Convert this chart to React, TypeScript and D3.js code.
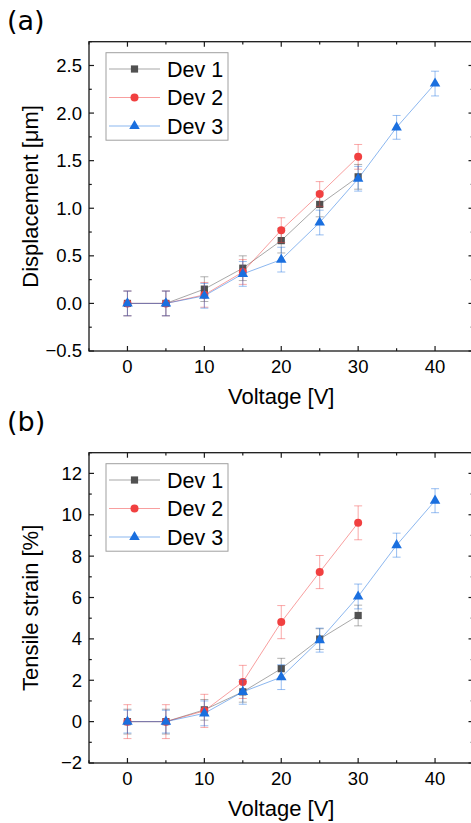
import React from "react";
import * as d3 from "d3";

const seriesNames = ["Dev 1", "Dev 2", "Dev 3"];
const seriesColors = ["#515151", "#F14040", "#1A6FDF"];

const voltage12 = [0, 5, 10, 15, 20, 25, 30];
const voltage3 = [0, 5, 10, 15, 20, 25, 30, 35, 40];

const disp1 = [0, 0, 0.15, 0.37, 0.66, 1.04, 1.33];
const disp2 = [0, 0, 0.09, 0.33, 0.77, 1.15, 1.54];
const disp3 = [0, 0, 0.08, 0.31, 0.46, 0.85, 1.31, 1.85, 2.31];
const dispErr1 = [0.13, 0.13, 0.13, 0.13, 0.13, 0.13, 0.13];
const dispErr2 = [0.13, 0.13, 0.13, 0.13, 0.13, 0.13, 0.13];
const dispErr3 = [0.13, 0.13, 0.13, 0.13, 0.13, 0.13, 0.13, 0.125, 0.13];

const strain1 = [0, 0, 0.57, 1.44, 2.56, 3.99, 5.13];
const strain2 = [0, 0, 0.52, 1.92, 4.81, 7.23, 9.61];
const strain3 = [0, 0, 0.4, 1.44, 2.15, 3.94, 6.05, 8.53, 10.68];
const strainErr1 = [0.6, 0.6, 0.5, 0.5, 0.5, 0.5, 0.5];
const strainErr2 = [0.82, 0.82, 0.8, 0.8, 0.8, 0.8, 0.82];
const strainErr3 = [0.55, 0.55, 0.6, 0.6, 0.6, 0.58, 0.6, 0.58, 0.58];

const xTicks = [0, 10, 20, 30, 40];
const xMinorTicks = [-5, 5, 15, 25, 35, 45];
const dispTicks = [-0.5, 0, 0.5, 1.0, 1.5, 2.0, 2.5];
const dispMinor = [-0.25, 0.25, 0.75, 1.25, 1.75, 2.25, 2.75];
const strainTicks = [-2, 0, 2, 4, 6, 8, 10, 12];
const strainMinor = [-1, 1, 3, 5, 7, 9, 11, 13];

const LEFT = 89;
const RIGHT = 473.5;
const AXIS_FONT = "'Liberation Sans', Arial, sans-serif";

type Series = { x: number[]; y: number[]; e: number[] };

function Marker({ i, cx, cy }: { i: number; cx: number; cy: number }) {
  const c = seriesColors[i];
  if (i === 0) return <rect x={cx - 3.6} y={cy - 3.6} width={7.2} height={7.2} fill={c} />;
  if (i === 1) return <circle cx={cx} cy={cy} r={4} fill={c} />;
  const p = d3.symbol(d3.symbolTriangle, 48)();
  return <path d={p || ""} transform={`translate(${cx},${cy})`} fill={c} />;
}

function Panel({
  top, bottom, domain, ticks, minor, fmt, series, yTitle, label, labelY,
}: {
  top: number; bottom: number; domain: [number, number]; ticks: number[]; minor: number[];
  fmt: (v: number) => string; series: Series[]; yTitle: string; label: string; labelY: number;
}) {
  const x = d3.scaleLinear().domain([-5, 45]).range([LEFT, RIGHT]);
  const y = d3.scaleLinear().domain(domain).range([bottom, top]);
  const line = d3.line<[number, number]>().x((d) => x(d[0])).y((d) => y(d[1]));
  const majorLen = 5;
  const minorLen = 2.8;
  const axisColor = "#1a1a1a";
  const legendTop = top + 11;
  return (
    <g>
      <text x={7} y={labelY} fontFamily="'DejaVu Sans', sans-serif" fontSize={27} fill="#000">{label}</text>
      {series.map((s, i) => {
        const pts: [number, number][] = s.x.map((v, k) => [v, s.y[k]]);
        const c = seriesColors[i];
        return (
          <g key={i}>
            {pts.map((p, k) => {
              const cx = x(p[0]);
              const y1 = y(p[1] + s.e[k]);
              const y2 = y(p[1] - s.e[k]);
              return (
                <g key={k} stroke={c} strokeOpacity={0.45} strokeWidth={1}>
                  <line x1={cx} x2={cx} y1={y1} y2={y2} />
                  <line x1={cx - 4} x2={cx + 4} y1={y1} y2={y1} />
                  <line x1={cx - 4} x2={cx + 4} y1={y2} y2={y2} />
                </g>
              );
            })}
            <path d={line(pts) || ""} fill="none" stroke={c} strokeOpacity={0.5} strokeWidth={1} />
            {pts.map((p, k) => (
              <Marker key={k} i={i} cx={x(p[0])} cy={y(p[1])} />
            ))}
          </g>
        );
      })}
      <rect x={LEFT} y={top} width={RIGHT - LEFT} height={bottom - top} fill="none" stroke={axisColor} strokeWidth={1.3} />
      {xTicks.map((t) => (
        <g key={"xt" + t} stroke={axisColor} strokeWidth={1.2}>
          <line x1={x(t)} x2={x(t)} y1={bottom} y2={bottom - majorLen} />
          <line x1={x(t)} x2={x(t)} y1={top} y2={top + majorLen} />
        </g>
      ))}
      {xMinorTicks.map((t) => (
        <g key={"xm" + t} stroke={axisColor} strokeWidth={1.2}>
          <line x1={x(t)} x2={x(t)} y1={bottom} y2={bottom - minorLen} />
          <line x1={x(t)} x2={x(t)} y1={top} y2={top + minorLen} />
        </g>
      ))}
      {xTicks.map((t) => (
        <text key={"xl" + t} x={x(t)} y={bottom + 22} textAnchor="middle" fontFamily={AXIS_FONT} fontSize={18.5} fill="#000">{t}</text>
      ))}
      {ticks.map((t) => (
        <g key={"yt" + t} stroke={axisColor} strokeWidth={1.2}>
          <line x1={LEFT} x2={LEFT + majorLen} y1={y(t)} y2={y(t)} />
          <line x1={RIGHT} x2={RIGHT - majorLen} y1={y(t)} y2={y(t)} />
        </g>
      ))}
      {minor.map((t) => (
        <g key={"ym" + t} stroke={axisColor} strokeWidth={1.2}>
          <line x1={LEFT} x2={LEFT + minorLen} y1={y(t)} y2={y(t)} />
          <line x1={RIGHT} x2={RIGHT - minorLen} y1={y(t)} y2={y(t)} />
        </g>
      ))}
      {ticks.map((t) => (
        <text key={"yl" + t} x={LEFT - 7} y={y(t)} dy="0.35em" textAnchor="end" fontFamily={AXIS_FONT} fontSize={18.5} fill="#000">{fmt(t)}</text>
      ))}
      <text x={x(20)} y={bottom + 53} textAnchor="middle" fontFamily={AXIS_FONT} fontSize={22} fill="#000">Voltage [V]</text>
      <text transform={`translate(37.5,${(top + bottom) / 2}) rotate(-90)`} textAnchor="middle" fontFamily={AXIS_FONT} fontSize={22} fill="#000">{yTitle}</text>
      <rect x={106} y={legendTop} width={122} height={87.5} fill="#fff" stroke="#a0a0a0" strokeWidth={1} />
      {seriesNames.map((n, i) => {
        const cy = legendTop + 16.3 + i * 28.5;
        return (
          <g key={n}>
            <line x1={109} x2={160} y1={cy} y2={cy} stroke={seriesColors[i]} strokeOpacity={0.5} strokeWidth={1} />
            <Marker i={i} cx={134.5} cy={cy} />
            <text x={167} y={cy} dy="0.36em" fontFamily={AXIS_FONT} fontSize={21.5} fill="#000">{n}</text>
          </g>
        );
      })}
    </g>
  );
}

export default function App() {
  const dispSeries: Series[] = [
    { x: voltage12, y: disp1, e: dispErr1 },
    { x: voltage12, y: disp2, e: dispErr2 },
    { x: voltage3, y: disp3, e: dispErr3 },
  ];
  const strainSeries: Series[] = [
    { x: voltage12, y: strain1, e: strainErr1 },
    { x: voltage12, y: strain2, e: strainErr2 },
    { x: voltage3, y: strain3, e: strainErr3 },
  ];
  const fmt1 = d3.format(".1f");
  const fmt0 = d3.format("d");
  return (
    <svg width={471} height={823} style={{ position: "absolute", left: 0, top: 0, background: "#fff" }}>
      <rect width={471} height={823} fill="#fff" />
      <Panel top={41.7} bottom={351} domain={[-0.5, 2.75]} ticks={dispTicks} minor={dispMinor} fmt={fmt1}
        series={dispSeries} yTitle="Displacement [μm]" label="(a)" labelY={30} />
      <Panel top={452.7} bottom={763} domain={[-2, 13]} ticks={strainTicks} minor={strainMinor} fmt={fmt0}
        series={strainSeries} yTitle="Tensile strain [%]" label="(b)" labelY={431} />
    </svg>
  );
}
